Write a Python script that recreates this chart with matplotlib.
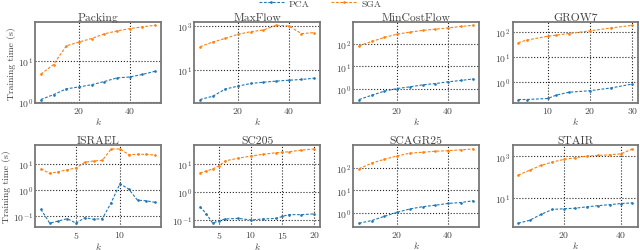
import matplotlib
matplotlib.use("Agg")
import matplotlib.pyplot as plt

plt.rcParams.update({
    "font.family": "serif",
    "font.serif": ["cmr10"],
    "mathtext.fontset": "cm",
    "axes.formatter.use_mathtext": True,
    "font.size": 7,
    "text.color": "#444444",
    "axes.labelcolor": "#444444",
    "xtick.color": "#444444",
    "ytick.color": "#444444",
})

titles = ["Packing", "MaxFlow", "MinCostFlow", "GROW7",
          "ISRAEL", "SC205", "SCAGR25", "STAIR"]

k_packing = [5, 10, 15, 20, 25, 30, 35, 40, 45, 50]
pca_packing = [1.14, 1.5, 2.06, 2.3, 2.6, 3.1, 3.8, 4.0, 4.6, 5.5]
sga_packing = [4.7, 8.0, 22.6, 28, 34, 44, 52, 59, 65, 71]

k_maxflow = [5, 10, 15, 20, 25, 30, 35, 40, 45, 50]
pca_maxflow = [0.47, 0.66, 1.4, 1.9, 2.5, 2.85, 3.2, 3.5, 3.8, 4.3]
sga_maxflow = [115, 187, 275, 420, 550, 660, 1070, 1000, 450, 500]

k_mincost = [5, 10, 15, 20, 25, 30, 35, 40, 45, 50]
pca_mincost = [0.32, 0.5, 0.76, 1.0, 1.19, 1.46, 1.67, 2.0, 2.3, 2.7]
sga_mincost = [84, 131, 200, 280, 345, 410, 470, 530, 620, 700]

k_grow7 = [3, 5, 10, 12, 15, 20, 25, 30]
pca_grow7 = [0.2, 0.2, 0.22, 0.3, 0.39, 0.45, 0.58, 0.83]
sga_grow7 = [37, 47, 67, 74, 86, 110, 144, 183]

k_israel = [1, 2, 3, 4, 5, 6, 7, 8, 9, 10, 11, 12, 13, 14]
pca_israel = [0.18, 0.053, 0.064, 0.079, 0.053, 0.086, 0.075, 0.079,
              0.32, 1.7, 1.06, 0.4, 0.38, 0.33]
sga_israel = [6.3, 4.2, 4.9, 5.8, 6.8, 11.2, 12.5, 13.3, 36, 36, 22, 22.5, 22.5, 21]

k_sc205 = [2, 3, 4, 5, 6, 8, 10, 12, 14, 15, 16, 18, 20]
pca_sc205 = [0.29, 0.16, 0.074, 0.092, 0.105, 0.11, 0.097, 0.105, 0.11,
             0.13, 0.15, 0.15, 0.16]
sga_sc205 = [4.7, 5.5, 6.5, 8.5, 12.8, 15.8, 19, 22, 25, 26, 27, 31, 34]

k_scagr25 = [5, 10, 15, 20, 25, 30, 35, 40, 45, 50]
pca_scagr25 = [0.35, 0.46, 0.71, 1.07, 1.5, 1.9, 2.2, 2.65, 2.9, 3.5]
sga_scagr25 = [93, 165, 245, 345, 455, 500, 555, 590, 640, 700]

k_stair = [4, 8, 12, 16, 20, 24, 28, 32, 36, 40, 44]
pca_stair = [0.58, 0.8, 1.55, 2.7, 2.9, 3.1, 3.6, 4.1, 4.6, 5.2, 5.6]
sga_stair = [125, 215, 370, 535, 720, 860, 1040, 1115, 1200, 1340, 2300]

xticks = [[20, 40], [20, 40], [20, 40], [10, 20, 30],
          [5, 10], [5, 10, 15, 20], [20, 40], [20, 40]]
yticks = [[1, 10], [10, 1000], [1, 10, 100], [1, 10, 100],
          [0.1, 1, 10], [0.1, 1, 10], [1, 10, 100], [10, 1000]]

ks = [k_packing, k_maxflow, k_mincost, k_grow7, k_israel, k_sc205, k_scagr25, k_stair]
pcas = [pca_packing, pca_maxflow, pca_mincost, pca_grow7, pca_israel, pca_sc205,
        pca_scagr25, pca_stair]
sgas = [sga_packing, sga_maxflow, sga_mincost, sga_grow7, sga_israel, sga_sc205,
        sga_scagr25, sga_stair]

fig, axes = plt.subplots(2, 4, figsize=(6.4, 2.51), dpi=100)
fig.subplots_adjust(left=0.055, right=0.997, top=0.910, bottom=0.092,
                    wspace=0.267, hspace=0.515)

for i, ax in enumerate(axes.flat):
    l1, = ax.plot(ks[i], pcas[i], color="#1f77b4", linestyle=(0, (2.5, 1.5)),
                  linewidth=0.8, marker=".", markersize=1.8, label="PCA")
    l2, = ax.plot(ks[i], sgas[i], color="#ff7f0e", linestyle=(0, (2.5, 1.5)),
                  linewidth=0.8, marker=".", markersize=1.8, label="SGA")
    ax.set_yscale("log")
    ax.set_xticks(xticks[i])
    ax.set_yticks(yticks[i])
    ax.minorticks_off()
    ax.grid(True, which="major", color="#222222", linestyle=":", linewidth=0.8)
    ax.tick_params(length=0, pad=1.5)
    for s in ax.spines.values():
        s.set_color("#777777")
        s.set_linewidth(1.3)
    ax.set_title(titles[i], pad=1.5)
    ax.set_xlabel("$k$", labelpad=0)
    if i % 4 == 0:
        ax.set_ylabel("Training time (s)", labelpad=1)

fig.legend(handles=[l1, l2], labels=["PCA", "SGA"], loc="upper center",
           bbox_to_anchor=(0.5, 1.035), ncol=2, frameon=False, fontsize=7,
           handlelength=2.6, handletextpad=0.5, columnspacing=2.2)

fig.savefig("out.png", dpi=100)
